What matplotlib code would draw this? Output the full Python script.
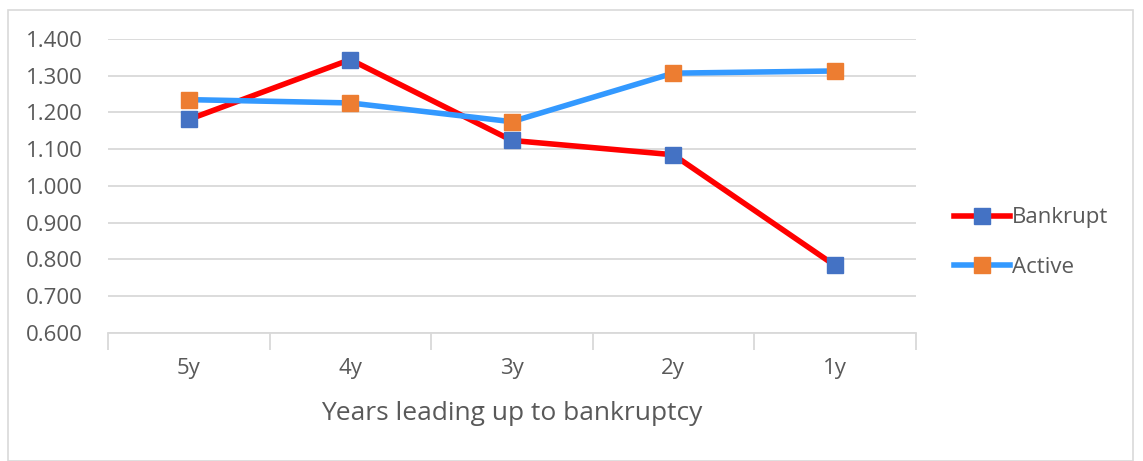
import matplotlib.pyplot as plt
from matplotlib.patches import Rectangle

# ====== DATA ======
years = ["5y", "4y", "3y", "2y", "1y"]
bankrupt = [1.181, 1.344, 1.124, 1.085, 0.784]
active = [1.235, 1.226, 1.175, 1.307, 1.313]

TEXT = "#595959"
GRID = "#D9D9D9"

plt.rcParams["font.family"] = ["Open Sans", "DejaVu Sans"]

fig = plt.figure(figsize=(11.43, 4.61), dpi=100)
ax = fig.add_axes([0.0945, 0.2777, 0.7065, 0.6377])

x = list(range(len(years)))
ax.plot(x, bankrupt, color="#FF0000", lw=4, marker="s", ms=11,
        mfc="#4472C4", mec="#4472C4", label="Bankrupt", zorder=3)
ax.plot(x, active, color="#3399FF", lw=4, marker="s", ms=11,
        mfc="#ED7D31", mec="#ED7D31", label="Active", zorder=3)

ax.set_xlim(-0.5, len(years) - 0.5)
ax.set_ylim(0.6, 1.4)
ax.set_yticks([0.6 + 0.1 * i for i in range(9)])
ax.set_yticklabels([f"{0.6 + 0.1 * i:.3f}" for i in range(9)])
ax.set_xticks(x)
ax.set_xticklabels(years)
ax.set_xticks([i - 0.5 for i in range(len(years) + 1)], minor=True)

ax.grid(axis="y", color=GRID, lw=1.3)
ax.set_axisbelow(True)
for s in ["top", "right", "left"]:
    ax.spines[s].set_visible(False)
ax.spines["bottom"].set_color(GRID)
ax.spines["bottom"].set_linewidth(1.3)

ax.tick_params(axis="y", length=0, labelsize=16, labelcolor=TEXT, pad=18)
ax.tick_params(axis="x", which="major", length=0, labelsize=16, labelcolor=TEXT, pad=18)
ax.tick_params(axis="x", which="minor", length=12, width=1.3, color=GRID)

ax.set_xlabel("Years leading up to bankruptcy", fontsize=19, color=TEXT, labelpad=16)

leg = ax.legend(loc="center left", bbox_to_anchor=(1.023, 0.307), frameon=False,
                fontsize=16, labelcolor=TEXT, handlelength=2.5, handletextpad=0.1,
                labelspacing=1.3)

# outer frame around the chart
fig.patches.append(Rectangle((0.007, 0.0), 0.984, 0.978, transform=fig.transFigure,
                             fill=False, edgecolor=GRID, lw=1.2))

fig.savefig("out.png", dpi=100)
